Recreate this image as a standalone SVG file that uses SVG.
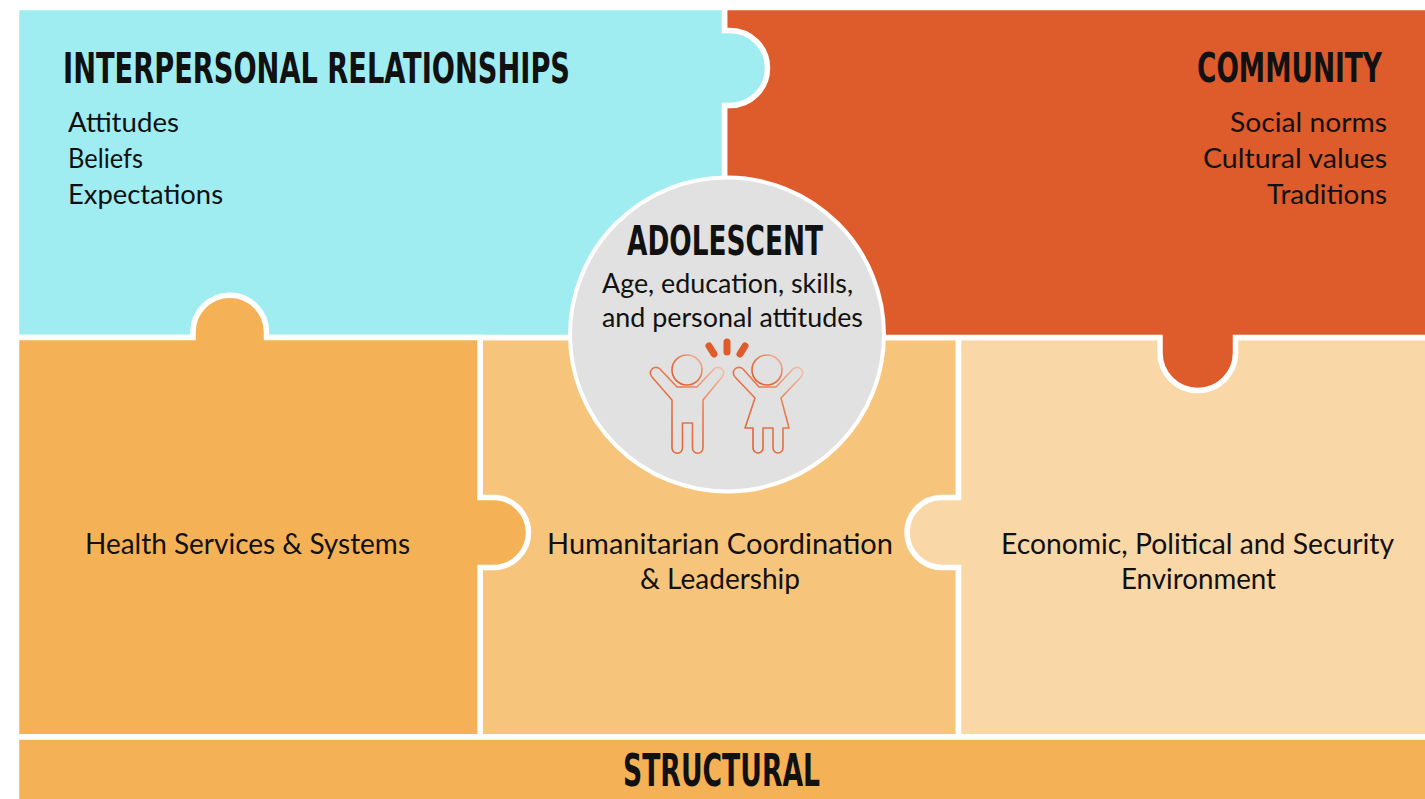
<svg xmlns="http://www.w3.org/2000/svg" width="1425" height="799" viewBox="0 0 1425 799">
<style>
.tile{stroke:#ffffff;stroke-width:5.5}
.title{font-family:"DejaVu Sans Condensed","Liberation Sans Narrow",sans-serif;font-weight:bold;fill:#111111}
.body{font-family:Lato,"Open Sans","Liberation Sans",sans-serif;fill:#111111}
.fig{fill:none;stroke:url(#figGrad);stroke-width:1.6;stroke-linejoin:round}
.spark{stroke:#e05a2b;stroke-width:7;stroke-linecap:round}
</style>
<defs>
<linearGradient id="figGrad" x1="0" y1="1" x2="1" y2="0">
<stop offset="0" stop-color="#e05a2b"/>
<stop offset="0.6" stop-color="#e77a4f"/>
<stop offset="1" stop-color="#f3c1aa"/>
</linearGradient>
</defs>
<rect x="0" y="0" width="1425" height="799" fill="#ffffff"/>
<g id="connectors"/>
<g id="humanitarian">
<path class="tile" fill="#f7c47c" d="M480 337.5 L958.5 337.5 L958.5 737 L480 737 Z"/>
<text class="body" x="547" y="554" font-size="28" textLength="346" lengthAdjust="spacingAndGlyphs">Humanitarian Coordination</text>
<text class="body" x="640" y="589" font-size="28" textLength="160" lengthAdjust="spacingAndGlyphs">&amp; Leadership</text>
</g>
<g id="economic">
<path class="tile" fill="#fad7a6" d="M958.5 337.5 L1430 337.5 L1430 737 L958.5 737 L958.5 567.5 L942 567.5 A35 35 0 0 1 942 497.5 L958.5 497.5 Z"/>
<text class="body" x="1001" y="554" font-size="28" textLength="393" lengthAdjust="spacingAndGlyphs">Economic, Political and Security</text>
<text class="body" x="1121" y="589" font-size="28" textLength="155" lengthAdjust="spacingAndGlyphs">Environment</text>
</g>
<g id="community">
<path class="tile" fill="#de5b2b" d="M724.5 7.5 L1430 7.5 L1430 337.5 L1235.5 337.5 L1235.5 352.75 A37.75 37.75 0 0 1 1160 352.75 L1160 337.5 L724.5 337.5 Z"/>
<text class="title" x="1197" y="82" font-size="40" textLength="185" lengthAdjust="spacingAndGlyphs">COMMUNITY</text>
<text class="body" x="1230" y="132" font-size="27" textLength="157" lengthAdjust="spacingAndGlyphs">Social norms</text>
<text class="body" x="1203" y="168" font-size="27" textLength="184" lengthAdjust="spacingAndGlyphs">Cultural values</text>
<text class="body" x="1267" y="204" font-size="27" textLength="120" lengthAdjust="spacingAndGlyphs">Traditions</text>
</g>
<g id="interpersonal">
<path class="tile" fill="#a0edf1" d="M16.5 7.5 L724.5 7.5 L724.5 30.5 L730 30.5 A37.5 37.5 0 0 1 730 105.5 L724.5 105.5 L724.5 337.5 L16.5 337.5 Z"/>
<text class="title" x="63" y="83" font-size="42" textLength="507" lengthAdjust="spacingAndGlyphs">INTERPERSONAL RELATIONSHIPS</text>
<text class="body" x="68" y="132" font-size="27" textLength="111" lengthAdjust="spacingAndGlyphs">Attitudes</text>
<text class="body" x="68" y="168" font-size="27" textLength="75" lengthAdjust="spacingAndGlyphs">Beliefs</text>
<text class="body" x="68" y="204" font-size="27" textLength="155" lengthAdjust="spacingAndGlyphs">Expectations</text>
</g>
<g id="health">
<path class="tile" fill="#f5b155" d="M16.5 337.5 L193 337.5 L193 332 A36.75 36.75 0 0 1 266.5 332 L266.5 337.5 L480 337.5 L480 497.5 L493.5 497.5 A35 35 0 0 1 493.5 567.5 L480 567.5 L480 737 L16.5 737 Z"/>
<text class="body" x="85" y="554" font-size="28" textLength="325" lengthAdjust="spacingAndGlyphs">Health Services &amp; Systems</text>
</g>
<g id="structural">
<path class="tile" fill="#f5b155" d="M16.5 737 L1430 737 L1430 805 L16.5 805 Z"/>
<text class="title" x="623" y="786" font-size="44" textLength="197" lengthAdjust="spacingAndGlyphs">STRUCTURAL</text>
</g>
<g id="adolescent">
<circle cx="727" cy="334.5" r="157" fill="#e1e1e1" stroke="#ffffff" stroke-width="4"/>
<text class="title" x="627" y="255" font-size="41" textLength="196" lengthAdjust="spacingAndGlyphs">ADOLESCENT</text>
<text class="body" x="602" y="293" font-size="27" textLength="251" lengthAdjust="spacingAndGlyphs">Age, education, skills,</text>
<text class="body" x="602" y="327" font-size="27" textLength="261" lengthAdjust="spacingAndGlyphs">and personal attitudes</text>
<line class="spark" x1="709" y1="346" x2="714" y2="354"/>
<line class="spark" x1="727" y1="342" x2="727" y2="352"/>
<line class="spark" x1="745" y1="346" x2="740" y2="354"/>
<circle class="fig" cx="687" cy="370" r="15"/>
<path class="fig" d="M672 400 L652 377 A5.5 5.5 0 0 1 660 369 L677 387 L697 387 L714 369 A5.5 5.5 0 0 1 722 377 L703 400 L703 448 A5.25 5.25 0 0 1 692.5 448 L692.5 423 L682.5 423 L682.5 448 A5.25 5.25 0 0 1 672 448 Z"/>
<circle class="fig" cx="767" cy="370" r="15"/>
<path class="fig" d="M755 398 L735 377 A5.5 5.5 0 0 1 743 369 L759 387 L776 387 L793 369 A5.5 5.5 0 0 1 801 377 L781 398 L789 428 L783 428 L783 448 A5 5 0 0 1 773 448 L773 428 L763 428 L763 448 A5 5 0 0 1 753 448 L753 428 L745 428 Z"/>
</g>
</svg>
